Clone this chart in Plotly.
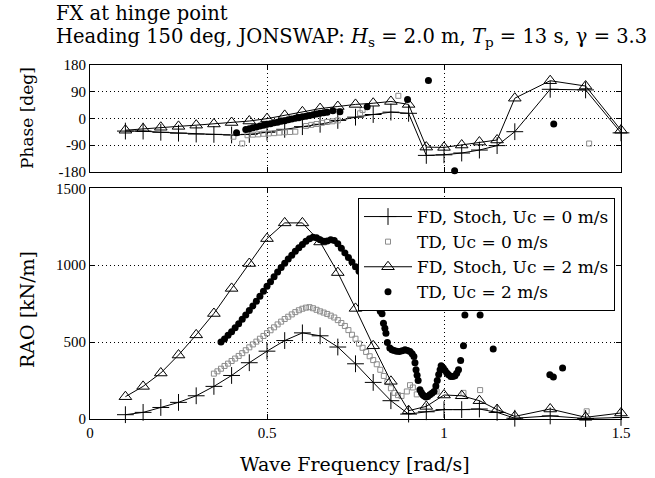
import plotly.graph_objects as go

# ---------------- data ----------------
fd_freq = [0.1, 0.15, 0.2, 0.25, 0.3, 0.35, 0.4, 0.45, 0.5, 0.55, 0.6, 0.65, 0.7, 0.75,
           0.8, 0.85, 0.9, 0.95, 1.0, 1.05, 1.1, 1.15, 1.2, 1.3, 1.4, 1.5]
fd0_rao = [28, 43, 75, 108, 151, 212, 283, 366, 441, 510, 560, 541, 468, 359,
           238, 119, 32, 47, 61, 61, 65, 43, 5, 20, 3, 10]
fd2_rao = [145, 212, 299, 416, 547, 686, 849, 1011, 1173, 1275, 1275, 1151, 952, 719,
           476, 245, 54, 82, 156, 151, 119, 61, 17, 65, 11, 39]
fd0_phase = [-43, -43, -47, -50, -53, -54, -56, -54, -47, -37, -28, -20, -7, 4,
             13, 21, 17, -125, -123, -117, -107, -92, -45, 98, 96, -49]
fd2_phase = [-40, -35, -30, -27, -23, -19, -14, -9, -1, 10, 22, 33, 40, 47,
             51, 57, 47, -97, -98, -90, -80, -73, 68, 127, 109, -40]

td0_freq = [0.35, 0.36, 0.37, 0.38, 0.39, 0.40, 0.41, 0.42, 0.43, 0.44, 0.45, 0.46, 0.47, 0.48,
            0.49, 0.50, 0.51, 0.52, 0.53, 0.54, 0.55, 0.56, 0.57, 0.58, 0.59, 0.60, 0.61, 0.62,
            0.63, 0.64, 0.65, 0.66, 0.67, 0.68, 0.69, 0.70, 0.71, 0.72, 0.73, 0.74, 0.75, 0.76,
            0.77, 0.78, 0.79, 0.80, 0.81, 0.82, 0.83, 0.84, 0.85, 0.86, 0.87, 0.88,
            0.895, 0.904, 0.912, 0.923, 0.979, 1.055, 1.102, 1.403]
td0_rao = [295, 310, 327, 345, 360, 377, 393, 410, 428, 447, 466, 485, 503, 522,
           540, 558, 577, 596, 615, 633, 650, 665, 680, 695, 707, 717, 724, 727,
           720, 710, 700, 692, 683, 672, 660, 643, 624, 605, 578, 548, 522, 490,
           463, 436, 408, 383, 356, 320, 280, 240, 200, 170, 155, 150,
           179, 220, 205, 160, 179, 170, 188, 50]

td2_freq = [0.37, 0.38, 0.39, 0.40, 0.41, 0.42, 0.43, 0.44, 0.45, 0.46, 0.47, 0.48, 0.49, 0.50,
            0.51, 0.52, 0.53, 0.54, 0.55, 0.56, 0.57, 0.58, 0.59, 0.60, 0.61, 0.62, 0.63, 0.64,
            0.65, 0.66, 0.67, 0.68, 0.69, 0.70, 0.71, 0.72, 0.73, 0.74, 0.75, 0.76, 0.77, 0.78,
            0.79, 0.80, 0.81, 0.82,
            0.825, 0.829, 0.833, 0.836, 0.840, 0.847, 0.853, 0.859, 0.866, 0.874, 0.882, 0.890,
            0.897, 0.904, 0.910, 0.915, 0.918, 0.921, 0.924, 0.927, 0.932, 0.936, 0.940, 0.944,
            0.949, 0.954, 0.960, 0.966, 0.972, 0.977, 0.981, 0.985, 0.989, 0.992, 0.998, 1.003,
            1.008, 1.013, 1.019, 1.025, 1.031, 1.036, 1.041, 1.047, 1.055, 1.059, 1.102, 1.139,
            1.299, 1.309, 1.335]
td2_rao = [500, 520, 545, 568, 593, 620, 648, 677, 705, 735, 766, 798, 830, 863,
           893, 925, 955, 985, 1012, 1040, 1065, 1090, 1113, 1135, 1155, 1172, 1182, 1178,
           1165, 1155, 1158, 1165, 1160, 1140, 1110, 1080, 1050, 1020, 990, 960, 925, 880,
           830, 780, 740, 700,
           685, 623, 590, 558, 497, 461, 450, 445, 440, 439, 444, 450,
           446, 439, 425, 406, 365, 320, 285, 251, 190, 172, 158, 150,
           143, 146, 158, 167, 179, 215, 251, 290, 320, 346, 331, 315,
           299, 288, 277, 276, 281, 298, 320, 381, 476, 677, 677, 455,
           288, 273, 331]

ph_td0_freq = [0.405, 0.43, 0.445, 0.46, 0.475, 0.49, 0.505, 0.52, 0.535, 0.55, 0.565, 0.58,
               0.61, 0.625, 0.64, 0.655, 0.67, 0.685, 0.70, 0.763, 0.77, 0.871, 1.41]
ph_td0 = [-62, -85, -57, -55, -54, -52, -51, -50, -48, -47, -46, -45,
          -26, -22, -19, -15, -12, -10, -7, 17, 28, 76, -85]

ph_td2_freq = [0.414, 0.44, 0.45, 0.46, 0.47, 0.48, 0.49, 0.50, 0.51, 0.52, 0.53, 0.54, 0.55,
               0.56, 0.57, 0.58, 0.59, 0.60, 0.61, 0.62, 0.63, 0.64, 0.65, 0.66, 0.67, 0.686,
               0.706, 0.783, 0.897, 0.956, 1.03, 1.31]
ph_td2 = [-49, -38, -35, -32, -29, -26, -23, -20, -18, -15, -13, -10, -8,
          -5, -2, 0, 2, 5, 7, 10, 12, 15, 17, 19, 21, 26,
          22, 39, 64, 128, -177, -19]

x_ticks = [0, 0.5, 1, 1.5]
x_ticktext = ["0", "0.5", "1", "1.5"]
phase_ticks = [-180, -90, 0, 90, 180]
phase_ticktext = ["-180", "-90", "0", "90", "180"]
rao_ticks = [0, 500, 1000, 1500]

names = ["FD, Stoch, Uc = 0 m/s", "TD, Uc = 0 m/s", "FD, Stoch, Uc = 2 m/s", "TD, Uc = 2 m/s"]

# ---------------- styles ----------------
LINE = dict(color="black", width=1)
PLUS = dict(symbol="cross-thin-open", size=12, color="black", line=dict(width=1, color="black"))
TRI = dict(symbol="triangle-up-open", size=11, color="black", line=dict(width=1, color="black"))
SQ = dict(symbol="square-open", size=5, color="#8c8c8c", line=dict(width=1, color="#8c8c8c"))
DOT = dict(symbol="circle", size=7, color="black", line=dict(width=0))

fig = go.Figure()

# Phase subplot (top)
fig.add_trace(go.Scatter(x=fd_freq, y=fd0_phase, mode="lines+markers", line=LINE, marker=PLUS,
                         xaxis="x2", yaxis="y2", showlegend=False, cliponaxis=False))
fig.add_trace(go.Scatter(x=ph_td0_freq, y=ph_td0, mode="markers", marker=SQ,
                         xaxis="x2", yaxis="y2", showlegend=False, cliponaxis=False))
fig.add_trace(go.Scatter(x=fd_freq, y=fd2_phase, mode="lines+markers", line=LINE, marker=TRI,
                         xaxis="x2", yaxis="y2", showlegend=False, cliponaxis=False))
fig.add_trace(go.Scatter(x=ph_td2_freq, y=ph_td2, mode="markers", marker=DOT,
                         xaxis="x2", yaxis="y2", showlegend=False, cliponaxis=False))

# RAO subplot (bottom)
fig.add_trace(go.Scatter(x=fd_freq, y=fd0_rao, mode="lines+markers", line=LINE, marker=PLUS,
                         name=names[0], legendgroup="a", cliponaxis=False))
fig.add_trace(go.Scatter(x=td0_freq, y=td0_rao, mode="markers", marker=SQ, name=names[1],
                         legendgroup="b", cliponaxis=False))
fig.add_trace(go.Scatter(x=fd_freq, y=fd2_rao, mode="lines+markers", line=LINE, marker=TRI,
                         name=names[2], legendgroup="c", cliponaxis=False))
fig.add_trace(go.Scatter(x=td2_freq, y=td2_rao, mode="markers", marker=DOT, name=names[3],
                         legendgroup="d", cliponaxis=False))

TICKFONT = dict(family="Liberation Serif", size=15, color="black")
axis_common = dict(
    showline=True, linecolor="black", linewidth=1, mirror="ticks",
    ticks="inside", ticklen=5, tickcolor="black",
    showgrid=True, gridcolor="black", gridwidth=1, griddash="1px,3px",
    zeroline=False, tickfont=TICKFONT,
)

H = 478
W = 655
mt, mb, ml, mr = 65, 59, 90, 34
ph_top, ph_bot = 65, 171.7
rao_top, rao_bot = 188.3, 419
plot_h = H - mt - mb
plot_w = W - ml - mr


def py(ypix):
    return (H - mb - ypix) / plot_h


def px(xpix):
    return (xpix - ml) / plot_w


fig.update_layout(
    width=W, height=H,
    margin=dict(l=ml, r=mr, t=mt, b=mb),
    paper_bgcolor="white", plot_bgcolor="white",
    xaxis=dict(domain=[0, 1], anchor="y", range=[0, 1.5], tickvals=x_ticks, ticktext=x_ticktext,
               **axis_common),
    yaxis=dict(domain=[py(rao_bot), py(rao_top)], anchor="x", range=[0, 1500], tickvals=rao_ticks,
               **axis_common),
    xaxis2=dict(domain=[0, 1], anchor="y2", range=[0, 1.5], tickvals=x_ticks, showticklabels=False,
                **axis_common),
    yaxis2=dict(domain=[py(ph_bot), py(ph_top)], anchor="x2", range=[-180, 180], tickvals=phase_ticks,
                ticktext=phase_ticktext, **axis_common),
    legend=dict(x=px(615), y=py(198), xanchor="right", yanchor="top",
                bgcolor="white", bordercolor="black", borderwidth=1,
                font=dict(family="DejaVu Serif", size=17, color="black"),
                traceorder="grouped", tracegroupgap=0, itemwidth=48),
    font=dict(family="DejaVu Serif", color="black"),
    showlegend=True,
)

TITLEFONT = dict(family="DejaVu Serif", size=19.5, color="black")
fig.add_annotation(text="FX at hinge point", xref="paper", yref="paper",
                   x=px(54), y=py(13), xanchor="left", yanchor="middle", showarrow=False, font=TITLEFONT)
fig.add_annotation(text="Heading 150 deg, JONSWAP: <i>H</i><sub>s</sub> = 2.0 m, <i>T</i><sub>p</sub> = 13 s, γ = 3.3",
                   xref="paper", yref="paper",
                   x=px(54), y=py(38), xanchor="left", yanchor="middle", showarrow=False, font=TITLEFONT)
fig.add_annotation(text="Phase [deg]", xref="paper", yref="paper", x=px(27), y=py(118),
                   textangle=-90, showarrow=False, xanchor="center", yanchor="middle",
                   font=dict(family="DejaVu Serif", size=17, color="black"))
fig.add_annotation(text="RAO [kN/m]", xref="paper", yref="paper", x=px(27), y=py(310),
                   textangle=-90, showarrow=False, xanchor="center", yanchor="middle",
                   font=dict(family="DejaVu Serif", size=19, color="black"))
fig.add_annotation(text="Wave Frequency [rad/s]", xref="paper", yref="paper", x=px(355), y=py(464),
                   showarrow=False, xanchor="center", yanchor="middle",
                   font=dict(family="DejaVu Serif", size=19, color="black"))

fig.write_html("out.html")
